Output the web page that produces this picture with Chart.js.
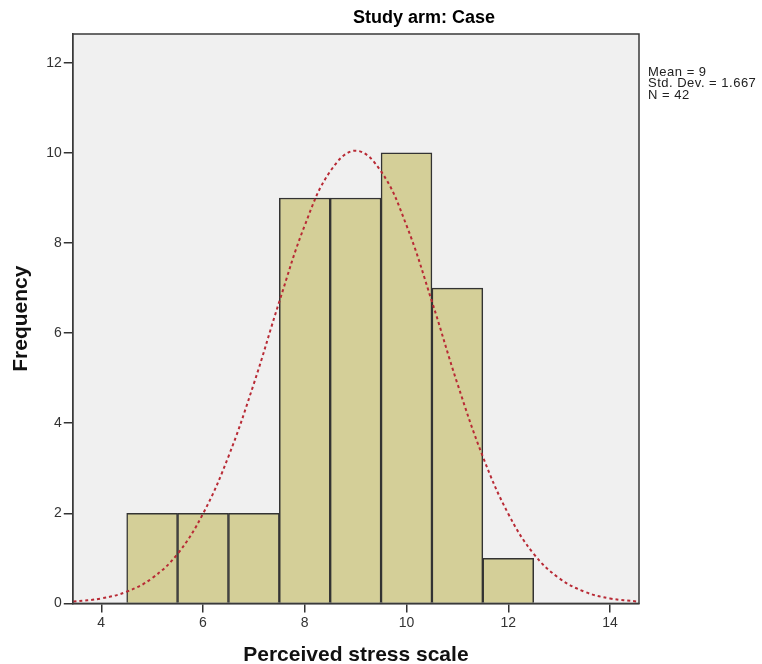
<!DOCTYPE html>
<html>
<head>
<meta charset="utf-8">
<script src="https://cdn.jsdelivr.net/npm/chart.js@4"></script>
<style>
  body { margin: 0; background: #fff; }
  #wrap { width: 762px; height: 664px; position: relative; }
</style>
</head>
<body>
<div id="wrap"><canvas id="myChart"></canvas></div>
<script>
// histogram bins (bin centres) and counts
const binCenters = [5, 6, 7, 8, 9, 10, 11, 12];
const frequencies = [2, 2, 2, 9, 9, 10, 7, 1];

// normal curve
const curveX = [3.45, 4, 4.5, 5, 5.5, 6, 6.5, 7, 7.5, 8, 8.5, 9, 9.5, 10, 10.5, 11, 11.5, 12, 12.5, 13, 13.5, 14, 14.55];
const curveY = [0.04, 0.11, 0.26, 0.56, 1.1, 1.99, 3.26, 4.88, 6.7, 8.39, 9.59, 10.05, 9.59, 8.39, 6.7, 4.88, 3.26, 1.99, 1.1, 0.56, 0.26, 0.11, 0.04];

const xTicks = [4, 6, 8, 10, 12, 14];
const yTicks = [0, 2, 4, 6, 8, 10, 12];

const statsLines = ["Mean = 9", "Std. Dev. = 1.667", "N = 42"];
const chartTitle = "Study arm: Case";

const plotFrame = {
  id: "plotFrame",
  beforeDraw(chart) {
    const { ctx, chartArea: a } = chart;
    ctx.save();
    ctx.fillStyle = "#f0f0f0";
    ctx.fillRect(a.left, a.top, a.right - a.left, a.bottom - a.top);
    ctx.restore();
  },
  afterDraw(chart) {
    const { ctx, chartArea: a } = chart;
    ctx.save();
    ctx.strokeStyle = "#3a3a3a";
    ctx.lineWidth = 1.5;
    ctx.strokeRect(a.left, a.top, a.right - a.left, a.bottom - a.top);

    ctx.fillStyle = "#000";
    ctx.font = "bold 18px 'Liberation Sans', Arial, sans-serif";
    ctx.textAlign = "center";
    ctx.textBaseline = "middle";
    ctx.fillText(chartTitle, 424, 18);

    ctx.fillStyle = "#222";
    ctx.font = "13px 'Liberation Sans', Arial, sans-serif";
    ctx.letterSpacing = "0.5px";
    ctx.textAlign = "left";
    statsLines.forEach((t, i) => ctx.fillText(t, 648, 72 + i * 11.5));
    ctx.restore();
  },
};

const ctx = document.getElementById("myChart");

new Chart(ctx, {
  type: "bar",
  data: {
    datasets: [
      {
        type: "line",
        data: curveX.map((x, i) => ({ x: x, y: curveY[i] })),
        borderColor: "#b82a35",
        borderWidth: 2,
        borderDash: [3, 3],
        pointRadius: 0,
        tension: 0.4,
        fill: false,
        order: 0,
      },
      {
        data: binCenters.map((x, i) => ({ x: x, y: frequencies[i] })),
        backgroundColor: "#d4cf98",
        borderColor: "#333333",
        borderWidth: 1.5,
        barPercentage: 1,
        categoryPercentage: 1,
        order: 1,
      },
    ],
  },
  options: {
    responsive: true,
    maintainAspectRatio: false,
    animation: false,
    layout: { padding: { top: 34, right: 123, bottom: 0, left: 9 } },
    plugins: {
      legend: { display: false },
      tooltip: { enabled: false },
    },
    scales: {
      x: {
        type: "linear",
        offset: false,
        min: 3.44,
        max: 14.57,
        afterBuildTicks: (scale) => {
          scale.ticks = xTicks.map((v) => ({ value: v }));
        },
        grid: { offset: false, drawOnChartArea: false, drawTicks: true, tickLength: 9, color: "#333", lineWidth: 1.5 },
        border: { display: true, color: "#3a3a3a", width: 1.5 },
        ticks: { color: "#333", font: { size: 14, family: "'Liberation Sans', Arial" }, padding: 2, maxRotation: 0 },
        title: {
          display: true,
          text: "Perceived stress scale",
          color: "#111",
          font: { size: 21, weight: "bold", family: "'Liberation Sans', Arial", lineHeight: 0.8 },
          padding: { top: 14, bottom: 0 },
        },
      },
      y: {
        min: 0,
        max: 12.64,
        afterBuildTicks: (scale) => {
          scale.ticks = yTicks.map((v) => ({ value: v }));
        },
        grid: { drawOnChartArea: false, drawTicks: true, tickLength: 9, color: "#333", lineWidth: 1.5 },
        border: { display: true, color: "#3a3a3a", width: 1.5 },
        ticks: { color: "#333", font: { size: 14, family: "'Liberation Sans', Arial" }, padding: 2 },
        title: {
          display: true,
          text: "Frequency",
          color: "#111",
          font: { size: 21, weight: "bold", family: "'Liberation Sans', Arial" },
          padding: { top: 0, bottom: 10 },
        },
      },
    },
  },
  plugins: [plotFrame],
});
</script>
</body>
</html>
